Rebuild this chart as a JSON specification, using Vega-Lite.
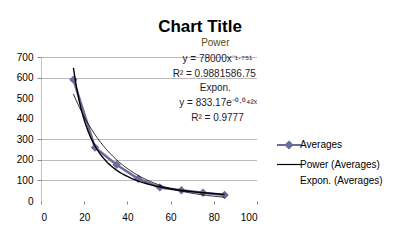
{
  "$schema": "https://vega.github.io/schema/vega-lite/v6.json",
  "width": 216,
  "height": 144,
  "autosize": "none",
  "padding": {"left": 41, "top": 57, "right": 147, "bottom": 43},
  "background": "white",
  "config": {
    "font": "Liberation Sans",
    "view": {"stroke": null},
    "axis": {"labelFontSize": 10, "labelColor": "black", "titleColor": "black"}
  },
  "title": {
    "text": "Chart Title",
    "fontSize": 17,
    "fontWeight": "bold",
    "color": "black",
    "anchor": "middle",
    "frame": "group",
    "dx": 51,
    "offset": 2
  },
  "datasets": {
    "avg": [
      {"x": 15, "y": 590},
      {"x": 25, "y": 260},
      {"x": 35, "y": 176},
      {"x": 45, "y": 108},
      {"x": 55, "y": 66},
      {"x": 65, "y": 52},
      {"x": 75, "y": 40},
      {"x": 85, "y": 29}
    ],
    "notes": [
      {"x": 80.7, "y": 768, "label": "Power", "kind": "head"},
      {"x": 81.7, "y": 690, "label": "y = 78000x⁻¹·⁷⁵¹", "kind": "body"},
      {"x": 80.2, "y": 617, "label": "R² = 0.9881586.75", "kind": "body"},
      {"x": 80.7, "y": 549, "label": "Expon.", "kind": "body"},
      {"x": 82, "y": 476, "label": "y = 833.17e⁻⁰·⁰⁴²ˣ", "kind": "body"},
      {"x": 81.7, "y": 403, "label": "R² = 0.9777", "kind": "body"}
    ]
  },
  "encoding": {
    "x": {
      "field": "x", "type": "quantitative",
      "scale": {"domain": [0, 100]},
      "axis": {
        "title": null, "values": [0, 20, 40, 60, 80, 100],
        "domain": false, "grid": false, "ticks": true, "tickSize": 3,
        "tickColor": "#888", "labelPadding": 8
      }
    },
    "y": {
      "field": "y", "type": "quantitative",
      "scale": {"domain": [0, 700]},
      "axis": {
        "title": null, "values": [0, 100, 200, 300, 400, 500, 600, 700],
        "labelOverlap": false,
        "domain": true, "domainColor": "#888", "domainDash": [1, 1],
        "grid": true, "gridColor": "#777", "gridDash": [1, 1],
        "gridOpacity": {"condition": {"test": "datum.value == 0 || datum.value == 400 || datum.value == 500", "value": 0}, "value": 1},
        "tickOpacity": {"condition": {"test": "datum.value == 0 || datum.value == 400 || datum.value == 500", "value": 0}, "value": 1},
        "tickColor": "#888", "tickSize": 4, "labelPadding": 4
      }
    }
  },
  "layer": [
    {
      "data": {"name": "avg"},
      "mark": {"type": "line", "strokeWidth": 2.5},
      "encoding": {
        "color": {
          "datum": "Averages",
          "scale": {
            "domain": ["Averages", "Power (Averages)", "Expon. (Averages)"],
            "range": ["#6b6b9c", "black", "black"]
          },
          "legend": {
            "title": null,
            "orient": "none",
            "legendX": 243,
            "legendY": 83,
            "padding": 0,
            "symbolSize": 256,
            "rowPadding": 6.5,
            "labelOffset": 6,
            "labelFontSize": 10,
            "labelColor": "black",
            "encode": {
              "symbols": {
                "update": {
                  "shape": {"signal": "datum.value === 'Averages' ? 'M-1.5,0H1.5M0,-0.4L0.4,0L0,0.4L-0.4,0Z' : 'M-1.5,0H1.5'"},
                  "fill": {"signal": "datum.value === 'Averages' ? '#6b6b9c' : 'transparent'"},
                  "stroke": {"signal": "datum.value === 'Averages' ? '#6b6b9c' : 'black'"},
                  "strokeOpacity": {"signal": "datum.value === 'Expon. (Averages)' ? 0 : 1"},
                  "strokeWidth": {"signal": "datum.value === 'Averages' ? 2 : 1.2"},
                  "opacity": {"value": 1}
                }
              }
            }
          }
        }
      }
    },
    {
      "data": {"name": "avg"},
      "mark": {"type": "point", "shape": "diamond", "filled": true, "size": 70, "opacity": 1, "color": "#6b6b9c"}
    },
    {
      "data": {"name": "avg"},
      "transform": [{"regression": "y", "on": "x", "method": "exp"}],
      "mark": {"type": "line", "strokeWidth": 0.8, "clip": false},
      "encoding": {
        "color": {"datum": "Expon. (Averages)"}
      }
    },
    {
      "data": {"name": "avg"},
      "transform": [{"regression": "y", "on": "x", "method": "pow"}],
      "mark": {"type": "line", "strokeWidth": 1.4, "clip": false},
      "encoding": {
        "color": {"datum": "Power (Averages)"}
      }
    },
    {
      "data": {"name": "notes"},
      "mark": {"type": "text", "fontSize": 10, "align": "center", "baseline": "middle"},
      "encoding": {
        "text": {"field": "label"},
        "color": {"condition": {"test": "datum.kind === 'head'", "value": "#5c4a14"}, "value": "#1c1c2c"}
      }
    }
  ]
}
